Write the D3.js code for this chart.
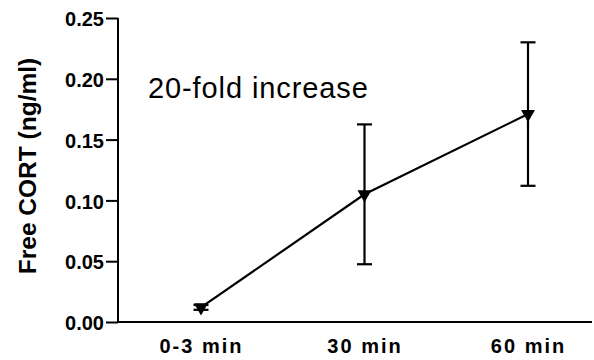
<!DOCTYPE html>
<html>
<head>
<meta charset="utf-8">
<script src="https://cdn.jsdelivr.net/npm/d3@7"></script>
<style>
  body { margin: 0; background: #fff; }
  svg { display: block; font-family: "Liberation Sans", Arial, sans-serif; }
</style>
</head>
<body>
<svg id="chart"></svg>
<script>
// data
const timepoints = ["0-3 min", "30 min", "60 min"];
const meanCort = [0.012, 0.105, 0.171];
const semCort = [0.002, 0.0575, 0.059];
const yTicks = [0, 0.05, 0.10, 0.15, 0.20, 0.25];

const margin = {top: 18, right: 2, bottom: 38, left: 118};
const width = 594 - margin.left - margin.right;
const height = 360 - margin.top - margin.bottom;

const svg = d3.select("#chart")
  .attr("width", 594)
  .attr("height", 360)
  .append("g")
  .attr("transform", `translate(${margin.left},${margin.top})`);

const x = d3.scalePoint()
  .domain(timepoints)
  .range([83, 410]);

const y = d3.scaleLinear()
  .domain([0, 0.25])
  .range([height, 0]);

// y axis
const yAxis = svg.append("g")
  .call(d3.axisLeft(y).tickValues(yTicks).tickFormat(d3.format(".2f")).tickSize(12).tickPadding(2));
yAxis.select(".domain").attr("stroke-width", 2).attr("d", `M0,${height}V0`);
yAxis.selectAll(".tick line").attr("stroke-width", 2);
yAxis.selectAll(".tick text")
  .attr("font-size", 20).attr("font-weight", "bold")
  .attr("font-family", "Liberation Sans, Arial, sans-serif")
  .attr("dy", "0.38em");

// x axis
const xAxis = svg.append("g")
  .attr("transform", `translate(0,${height})`)
  .call(d3.axisBottom(x).tickSize(0).tickPadding(17));
xAxis.select(".domain").attr("stroke-width", 2).attr("d", `M-1,0H${width}`);
xAxis.selectAll(".tick text")
  .attr("font-size", 20).attr("font-weight", "bold")
  .attr("font-family", "Liberation Sans, Arial, sans-serif")
  .attr("letter-spacing", "2px");

// y label
svg.append("text")
  .attr("transform", `translate(${-82},${148}) rotate(-90)`)
  .attr("text-anchor", "middle")
  .attr("font-size", 24.5)
  .attr("font-weight", "bold")
  .text("Free CORT (ng/ml)");

// annotation
svg.append("text")
  .attr("x", 30)
  .attr("y", 80)
  .attr("font-size", 29)
  .attr("letter-spacing", "0.9px")
  .text("20-fold increase");

const pts = timepoints.map((t, i) => ({t, m: meanCort[i], s: semCort[i]}));

// connecting line
svg.append("path")
  .datum(pts)
  .attr("fill", "none")
  .attr("stroke", "#000")
  .attr("stroke-width", 2.2)
  .attr("d", d3.line().x(d => x(d.t)).y(d => y(d.m)));

// error bars
const eb = svg.selectAll(".err")
  .data(pts)
  .enter().append("g")
  .attr("class", "err")
  .attr("stroke", "#000")
  .attr("stroke-width", 2.2);
eb.append("line")
  .attr("x1", d => x(d.t)).attr("x2", d => x(d.t))
  .attr("y1", d => y(d.m + d.s)).attr("y2", d => y(d.m - d.s));
eb.append("line")
  .attr("x1", d => x(d.t) - 7.5).attr("x2", d => x(d.t) + 7.5)
  .attr("y1", d => y(d.m + d.s)).attr("y2", d => y(d.m + d.s));
eb.append("line")
  .attr("x1", d => x(d.t) - 7.5).attr("x2", d => x(d.t) + 7.5)
  .attr("y1", d => y(d.m - d.s)).attr("y2", d => y(d.m - d.s));

// down triangle markers
svg.selectAll(".mark")
  .data(pts)
  .enter().append("path")
  .attr("class", "mark")
  .attr("d", d3.symbol(d3.symbolTriangle, 85))
  .attr("transform", d => `translate(${x(d.t)},${y(d.m)}) rotate(180)`)
  .attr("fill", "#000");
</script>
</body>
</html>
